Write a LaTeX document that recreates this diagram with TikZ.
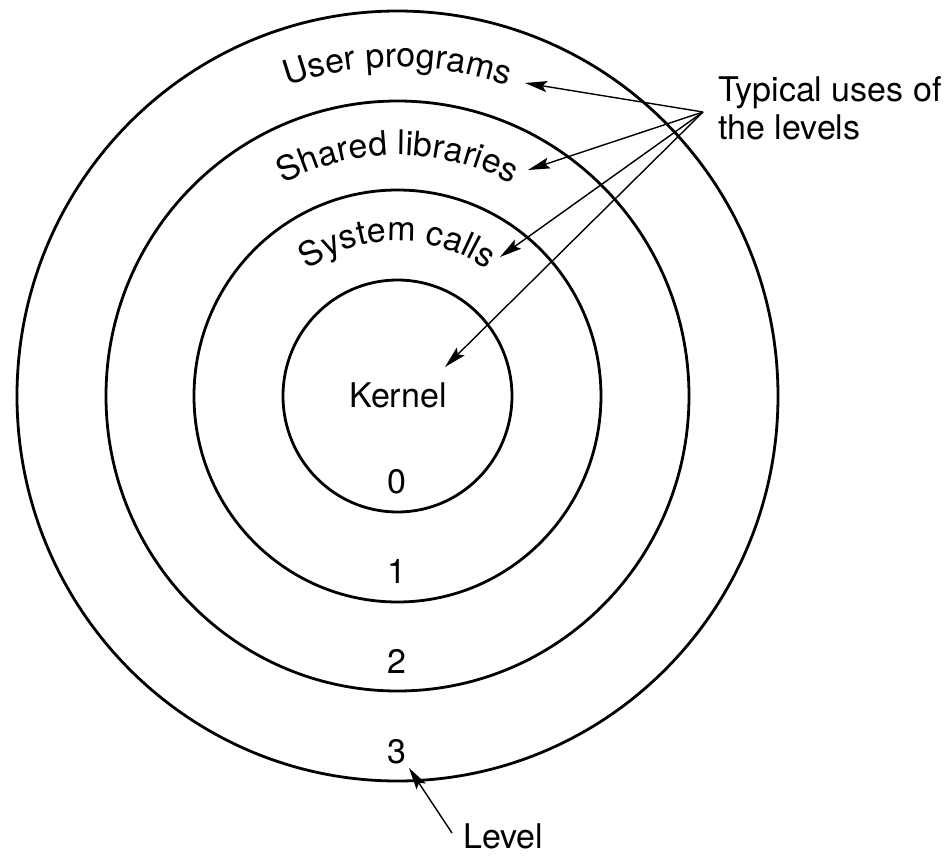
\documentclass[tikz,border=0pt]{standalone}
\usepackage{fontspec}
\setmainfont{TeX Gyre Heros}
\usetikzlibrary{arrows.meta,decorations.text}
\begin{document}
\begin{tikzpicture}[x=1pt,y=1pt,
  ring/.style={line width=2.8pt},
  lbl/.style={font=\fontsize{34}{38}\selectfont, inner sep=0pt},
  ptr/.style={line width=1.4pt, -{Stealth[length=22pt,width=11pt,inset=4pt]}}
]
\useasboundingbox (-397.5,-459) rectangle (553.5,396);
% rings
\draw[ring] (0,0) ellipse [x radius=380.5, y radius=385];
\draw[ring] (0,0) ellipse [x radius=291.5, y radius=295];
\draw[ring] (0,0) ellipse [x radius=203.5, y radius=206];
\draw[ring] (0,0) ellipse [x radius=114.5, y radius=116];
% curved labels
\path[decorate, decoration={text along path, text align=center,
  text={|\fontsize{34}{38}\selectfont|User programs}}]
  (-329,0) arc[start angle=180, end angle=0, radius=329];
\path[decorate, decoration={text along path, text align=center,
  text={|\fontsize{34}{38}\selectfont|Shared libraries}}]
  (-241,0) arc[start angle=180, end angle=0, radius=241];
\path[decorate, decoration={text along path, text align=center,
  text={|\fontsize{34}{38}\selectfont|System calls}}]
  (-155,0) arc[start angle=180, end angle=0, radius=155];
% straight labels
\node[lbl] (kern) at (0.5,1) {Kernel};
\node[lbl, anchor=base] (l0) at (-0.5,-97) {0};
\node[lbl, anchor=base] (l1) at (-0.5,-187) {1};
\node[lbl, anchor=base] (l2) at (-0.5,-277) {2};
\node[lbl, anchor=base] (l3) at (-0.5,-367) {3};
\node[lbl, anchor=north west, align=left] (typ) at (320.5,320) {Typical uses of\\the levels};
\node[lbl, anchor=base west] (lev) at (65.5,-452) {Level};
% pointer ends
\coordinate (fan) at (305.5,284);
\coordinate (tipU) at (127.5,313);
\coordinate (tipS) at (130.5,226);
\coordinate (tipY) at (102.5,139);
\coordinate (tipK) at (47.5,29);
\coordinate (levs) at (54.5,-437);
\coordinate (levt) at (11.5,-372);
\draw[ptr] (fan) -- (tipU);
\draw[ptr] (fan) -- (tipS);
\draw[ptr] (fan) -- (tipY);
\draw[ptr] (fan) -- (tipK);
\draw[ptr] (levs) -- (levt);
\end{tikzpicture}
\end{document}
